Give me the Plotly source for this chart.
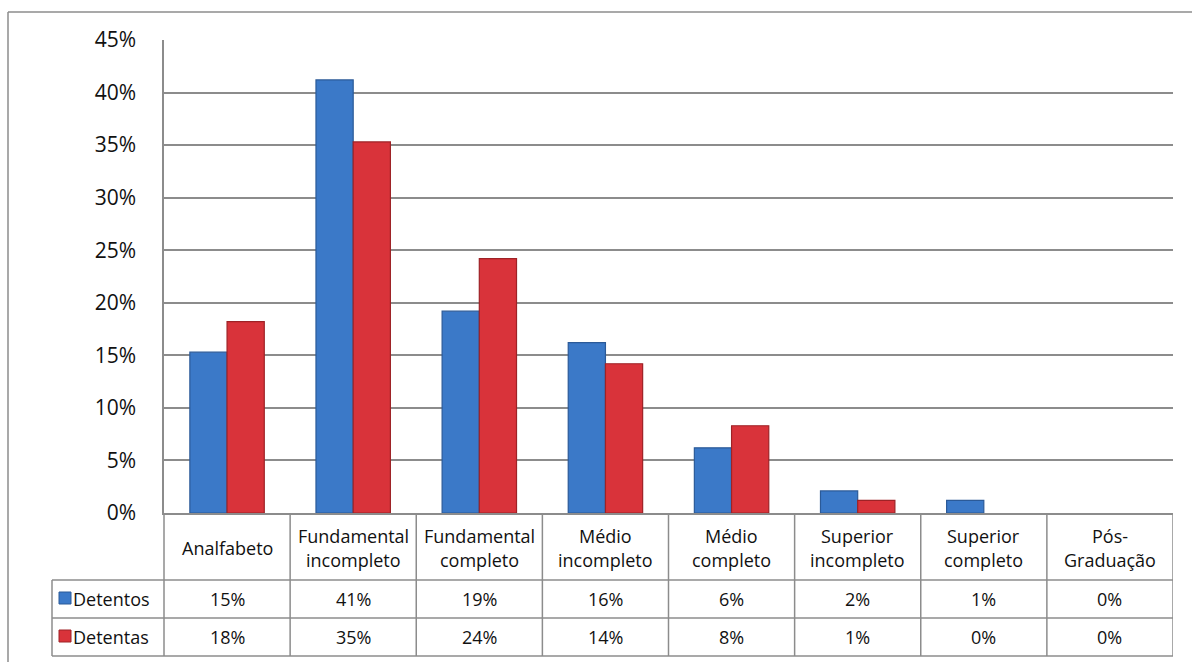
import plotly.graph_objects as go

categories = ["Analfabeto", "Fundamental<br>incompleto", "Fundamental<br>completo",
              "Médio<br>incompleto", "Médio<br>completo", "Superior<br>incompleto",
              "Superior<br>completo", "Pós-<br>Graduação"]
series_names = ["Detentos", "Detentas"]
detentos = [15.3, 41.2, 19.2, 16.2, 6.2, 2.1, 1.2, 0]
detentas = [18.2, 35.3, 24.2, 14.2, 8.3, 1.2, 0, 0]
y_ticks = [0, 5, 10, 15, 20, 25, 30, 35, 40, 45]

W, H = 1192, 662
FONT = "Open Sans"
GRAY = "#8c8c8c"
TXT = "#111111"


def px(x):
    return x / W


def py(y):
    return 1 - y / H


PLOT_L, PLOT_R, PLOT_T, PLOT_B = 164, 1173, 40, 513
ROW1, ROW2, ROW3 = 580, 618, 656
LEG_L = 52

colors = ["#3b79c8", "#d9333a"]
edges = ["#2b5a98", "#9e2226"]
series_vals = [detentos, detentas]
idx = list(range(len(categories)))

fig = go.Figure()
for name, vals, c, e in zip(series_names, series_vals, colors, edges):
    fig.add_trace(go.Bar(x=idx, y=vals, name=name,
                         marker=dict(color=c, line=dict(color=e, width=[1.2 if v > 0 else 0 for v in vals])),
                         showlegend=False))

shapes = []
annotations = []
line = dict(color=GRAY, width=1.5)

# outer chart border (top + left)
shapes.append(dict(type="line", xref="paper", yref="paper", x0=px(8), x1=1, y0=py(12), y1=py(12), line=line))
shapes.append(dict(type="line", xref="paper", yref="paper", x0=px(8), x1=px(8), y0=py(12), y1=0, line=line))

# table horizontal lines
for yy in (ROW1, ROW2, ROW3):
    shapes.append(dict(type="line", xref="paper", yref="paper", x0=px(LEG_L), x1=px(PLOT_R),
                       y0=py(yy), y1=py(yy), line=line))
shapes.append(dict(type="line", xref="paper", yref="paper", x0=px(LEG_L), x1=px(LEG_L),
                   y0=py(ROW1), y1=py(ROW3), line=line))
shapes.append(dict(type="line", xref="paper", yref="paper", x0=px(PLOT_L), x1=px(PLOT_L),
                   y0=py(PLOT_B), y1=py(ROW3), line=line))
for k in range(1, len(categories) + 1):
    shapes.append(dict(type="line", xref="x", yref="paper", x0=k - 0.5, x1=k - 0.5,
                       y0=py(PLOT_B), y1=py(ROW3), line=line))

# category labels
for i, cat in enumerate(categories):
    lines = cat.split("<br>")
    center = (PLOT_B + ROW1) / 2 + 1
    spacing = 24
    start = center - spacing * (len(lines) - 1) / 2
    for j, t in enumerate(lines):
        annotations.append(dict(x=i, xref="x", y=py(start + j * spacing), yref="paper", text=t,
                                showarrow=False, font=dict(family=FONT, size=18, color=TXT),
                                xanchor="center", yanchor="middle"))

# data rows
for r, (name, vals, c, e) in enumerate(zip(series_names, series_vals, colors, edges)):
    top = ROW1 if r == 0 else ROW2
    bot = ROW2 if r == 0 else ROW3
    cy = (top + bot) / 2
    shapes.append(dict(type="rect", xref="paper", yref="paper", x0=px(59), x1=px(71),
                       y0=py(cy - 7), y1=py(cy + 5), fillcolor=c, line=dict(color=e, width=1)))
    annotations.append(dict(x=px(71), xref="paper", y=py(cy), yref="paper", text=name, showarrow=False,
                            font=dict(family=FONT, size=18, color=TXT), xanchor="left", yanchor="middle"))
    for i, v in enumerate(vals):
        annotations.append(dict(x=i, xref="x", y=py(cy), yref="paper", text=f"{round(v)}%", showarrow=False,
                                font=dict(family=FONT, size=18, color=TXT), xanchor="center",
                                yanchor="middle"))

fig.update_layout(
    width=W, height=H,
    margin=dict(l=0, r=0, t=0, b=0, autoexpand=False),
    paper_bgcolor="white", plot_bgcolor="white",
    barmode="group", bargap=0.41, bargroupgap=0,
    hovermode=False,
    xaxis=dict(domain=[px(PLOT_L), px(PLOT_R)], range=[-0.5, len(categories) - 0.5],
               showticklabels=False, showgrid=False, zeroline=False, automargin=False,
               showline=True, linecolor=GRAY, linewidth=1.5, mirror=False),
    yaxis=dict(domain=[py(PLOT_B), py(PLOT_T)], range=[0, 45], tickvals=y_ticks,
               ticktext=[f"{t}%" for t in y_ticks], automargin=False,
               showgrid=True, gridcolor=GRAY, gridwidth=1.5, zeroline=False,
               showline=True, linecolor=GRAY, linewidth=1.5,
               tickfont=dict(family=FONT, size=21, color=TXT), ticklabelstandoff=22),
    shapes=shapes, annotations=annotations,
)

fig.write_html("out.html", config={"displayModeBar": False},
               post_script="document.body.style.margin='0';document.body.style.overflow='hidden';")
